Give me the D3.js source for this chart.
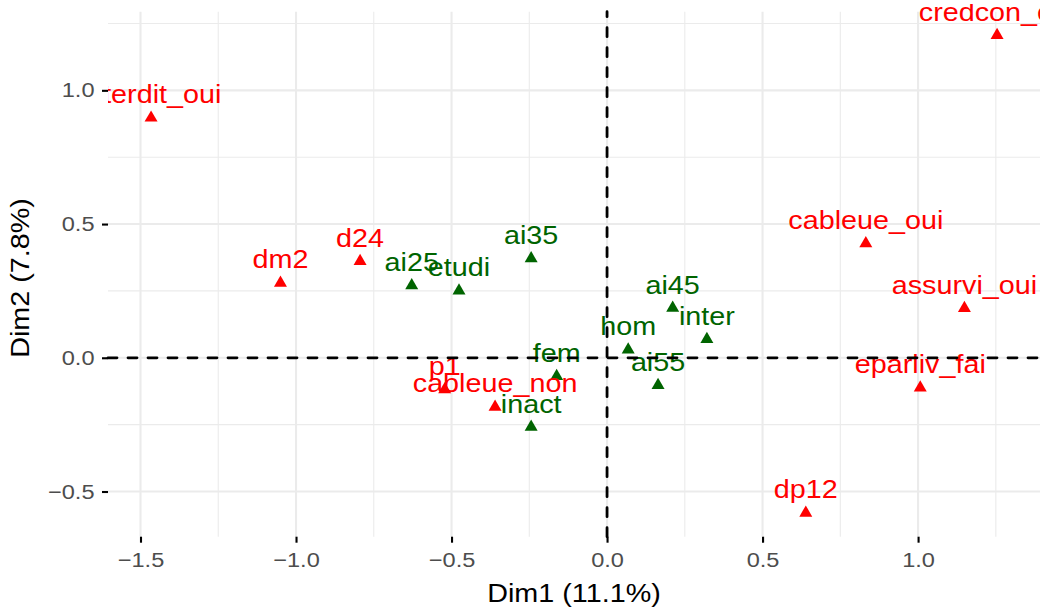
<!DOCTYPE html>
<html>
<head>
<meta charset="utf-8">
<script src="https://cdn.jsdelivr.net/npm/d3@7"></script>
<style>
  body { margin: 0; background: #fff; }
  text { font-family: "Liberation Sans", Arial, sans-serif; }
</style>
</head>
<body>
<script>
// category labels and their coordinates on the two dimensions
var catNames = ["interdit_oui", "credcon_oui", "dm2", "d24", "ai25", "etudi", "ai35",
                "cableue_oui", "ai45", "assurvi_oui", "inter", "hom", "fem", "ai55",
                "p1", "cableue_non", "inact", "eparliv_fai", "dp12"];
var dim1 = [-1.466, 1.254, -1.050, -0.794, -0.628, -0.476, -0.244,
            0.832, 0.211, 1.149, 0.321, 0.068, -0.162, 0.164,
            -0.522, -0.360, -0.244, 1.007, 0.639];
var dim2 = [0.897, 1.206, 0.280, 0.361, 0.270, 0.251, 0.371,
            0.427, 0.186, 0.185, 0.069, 0.030, -0.069, -0.103,
            -0.119, -0.184, -0.259, -0.112, -0.580];
// "a" = active variable (red), "s" = supplementary (green)
var kind = ["a", "a", "a", "a", "s", "s", "s",
            "a", "s", "a", "s", "s", "s", "s",
            "a", "a", "s", "a", "a"];
var xTicks = [-1.5, -1.0, -0.5, 0.0, 0.5, 1.0];
var yTicks = [-0.5, 0.0, 0.5, 1.0];
var xMinor = [-1.25, -0.75, -0.25, 0.25, 0.75, 1.25];
var yMinor = [-0.25, 0.25, 0.75, 1.25];

var margin = {top: 11.7, right: 3, bottom: 72.3, left: 108},
    width = 1043 - margin.left - margin.right,
    height = 609 - margin.top - margin.bottom;

var sx = 1.15; // glyphs in the picture are drawn wider than Arial

var svg = d3.select("body").append("svg")
    .attr("width", 1043)
    .attr("height", 609);

var g = svg.append("g")
    .attr("transform", "translate(" + margin.left + "," + margin.top + ")");

var x = d3.scaleLinear().domain([-1.6045, 1.392]).range([0, width]),
    y = d3.scaleLinear().domain([-0.669, 1.294]).range([height, 0]);

var colors = {a: "#FF0000", s: "#006400"};

// grid
g.selectAll(".xminor").data(xMinor).enter().append("line")
    .attr("x1", x).attr("x2", x).attr("y1", 0).attr("y2", height)
    .attr("stroke", "#EBEBEB").attr("stroke-width", 1.1);
g.selectAll(".yminor").data(yMinor).enter().append("line")
    .attr("y1", y).attr("y2", y).attr("x1", 0).attr("x2", width)
    .attr("stroke", "#EBEBEB").attr("stroke-width", 1.1);
g.selectAll(".xmajor").data(xTicks).enter().append("line")
    .attr("x1", x).attr("x2", x).attr("y1", 0).attr("y2", height)
    .attr("stroke", "#EBEBEB").attr("stroke-width", 2.1);
g.selectAll(".ymajor").data(yTicks).enter().append("line")
    .attr("y1", y).attr("y2", y).attr("x1", 0).attr("x2", width)
    .attr("stroke", "#EBEBEB").attr("stroke-width", 2.1);

// axes
var fmt = d3.format(".1f");
var xAxis = g.append("g")
    .attr("transform", "translate(0," + height + ")")
    .call(d3.axisBottom(x).tickValues(xTicks).tickFormat(fmt).tickSize(6).tickPadding(10));
var yAxis = g.append("g")
    .call(d3.axisLeft(y).tickValues(yTicks).tickFormat(fmt).tickSize(6).tickPadding(7));
[xAxis, yAxis].forEach(function(a) {
    a.select(".domain").remove();
    a.selectAll(".tick line").attr("stroke", "#000").attr("stroke-width", 2.1);
    a.selectAll(".tick text")
        .attr("fill", "#4D4D4D")
        .style("font-size", "20.5px")
        .style("font-family", "Liberation Sans, Arial, sans-serif");
});
yAxis.selectAll(".tick text").attr("x", -13.5 / sx).attr("transform", "scale(" + sx + ",1)");
xAxis.selectAll(".tick text").attr("transform", "scale(" + sx + ",1)");

// clip for the labels
svg.append("clipPath").attr("id", "clip")
    .append("rect").attr("x", 0).attr("y", -margin.top + 4)
    .attr("width", width).attr("height", height + margin.top - 4);

var pts = catNames.map(function(n, i) {
    return {name: n, d1: dim1[i], d2: dim2[i], k: kind[i]};
});

var layer = g.append("g").attr("clip-path", "url(#clip)");

layer.selectAll("path.pt").data(pts).enter().append("path")
    .attr("class", "pt")
    .attr("d", d3.symbol(d3.symbolTriangle, 73))
    .attr("transform", function(d) { return "translate(" + x(d.d1) + "," + y(d.d2) + ")"; })
    .attr("fill", function(d) { return colors[d.k]; });

layer.selectAll("text.lab").data(pts).enter().append("text")
    .attr("class", "lab")
    .attr("transform", function(d) {
        return "translate(" + x(d.d1) + "," + (y(d.d2) - 14.5) + ") scale(" + sx + ",1)";
    })
    .attr("text-anchor", "middle")
    .style("font-size", "25px")
    .attr("fill", function(d) { return colors[d.k]; })
    .text(function(d) { return d.name; });

// reference lines at zero
g.append("line")
    .attr("x1", 0).attr("x2", width).attr("y1", y(0)).attr("y2", y(0))
    .attr("stroke", "#000").attr("stroke-width", 2.8)
    .attr("stroke-dasharray", "9,11").attr("stroke-linecap", "round");
g.append("line")
    .attr("x1", x(0)).attr("x2", x(0)).attr("y1", height).attr("y2", 0)
    .attr("stroke", "#000").attr("stroke-width", 2.8)
    .attr("stroke-dasharray", "9,11").attr("stroke-linecap", "round");

// axis titles
svg.append("text")
    .attr("transform", "translate(" + (margin.left + width / 2) + ",601.7) scale(" + sx + ",1)")
    .attr("text-anchor", "middle")
    .style("font-size", "25px")
    .attr("fill", "#000")
    .text("Dim1 (11.1%)");

svg.append("text")
    .attr("transform", "translate(29.3," + 278 + ") rotate(-90) scale(" + sx + ",1)")
    .attr("text-anchor", "middle")
    .style("font-size", "25px")
    .attr("fill", "#000")
    .text("Dim2 (7.8%)");
</script>
</body>
</html>
